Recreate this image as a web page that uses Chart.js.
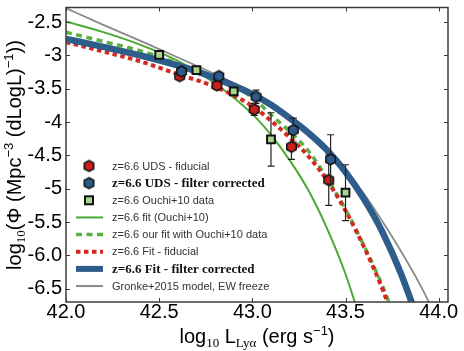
<!DOCTYPE html>
<html>
<head>
<meta charset="utf-8">
<script src="https://cdn.jsdelivr.net/npm/chart.js@4.4.1/dist/chart.umd.min.js"></script>
<style>
    html, body { margin: 0; padding: 0; background: #fff; }
    #wrap { width: 464px; height: 351px; }
</style>
</head>
<body>
<div id="wrap"><canvas id="lfChart" width="464" height="351"></canvas></div>
<script>
// ticks
const xTicks = [42.0, 42.5, 43.0, 43.5, 44.0];
const xTickLabels = ['42.0', '42.5', '43.0', '43.5', '44.0'];
const yTicks = [-2.5, -3, -3.5, -4, -4.5, -5, -5.5, -6, -6.5];
const yTickLabels = ['-2.5', '-3', '-3.5', '-4', '-4.5', '-5', '-5.5', '-6.0', '-6.5'];

// data points (log L, log phi, error)
const udsFidL = [42.61, 42.81, 43.01, 43.21, 43.41];
const udsFidPhi = [-3.31, -3.45, -3.81, -4.37, -4.87];
const udsFidErr = [0.03, 0.03, 0.09, 0.19, 0.38];

const udsCorL = [42.62, 42.82, 43.02, 43.22, 43.42];
const udsCorPhi = [-3.24, -3.31, -3.62, -4.12, -4.56];
const udsCorErr = [0.03, 0.03, 0.10, 0.18, 0.37];

const ouchiL = [42.50, 42.70, 42.90, 43.10, 43.50];
const ouchiPhi = [-2.99, -3.22, -3.54, -4.26, -5.06];
const ouchiErr = [0.03, 0.03, 0.03, 0.40, 0.42];

// curves, read at these luminosities
const curveL = [42.0, 42.2, 42.4, 42.6, 42.8, 43.0, 43.1, 43.2, 43.3, 43.4, 43.5, 43.6, 43.7, 43.8, 43.9, 44.0];
const ouchiFit = [-2.49, -2.65, -2.84, -3.08, -3.42, -3.88, -4.19, -4.57, -5.02, -5.59, -6.28, -7.15];
const ourOuchiFit = [-2.65, -2.79, -2.93, -3.12, -3.33, -3.63, -3.89, -4.14, -4.43, -4.84, -5.31, -5.86, -6.47, -7.2];
const fidFit = [-2.80, -2.94, -3.09, -3.28, -3.47, -3.76, -3.98, -4.23, -4.51, -4.87, -5.33, -5.88, -6.52, -7.3];
const corFit = [-2.75, -2.87, -3.00, -3.15, -3.34, -3.58, -3.74, -3.94, -4.16, -4.42, -4.75, -5.16, -5.66, -6.29, -7.06];
const gronke = [-2.29, -2.54, -2.78, -3.03, -3.28, -3.56, -3.72, -3.91, -4.12, -4.38, -4.72, -5.08, -5.5, -5.95, -6.44, -7.0];

const legendLabels = [
    'z=6.6 UDS - fiducial',
    'z=6.6 UDS - filter corrected',
    'z=6.6 Ouchi+10 data',
    'z=6.6 fit (Ouchi+10)',
    'z=6.6 our fit with Ouchi+10 data',
    'z=6.6 Fit - fiducial',
    'z=6.6 Fit - filter corrected',
    'Gronke+2015 model, EW freeze',
];

const SANS = '"Liberation Sans", Arial, sans-serif';
const SERIF = '"Liberation Serif", "DejaVu Serif", serif';

const colRed = '#d22a22';
const colBlue = '#2e5c8b';
const colGreen = '#4ba933';
const colGreenDash = '#58b140';
const colGrey = '#8a8a8a';

function hexMarker(fill, r) {
    const c = document.createElement('canvas');
    const s = Math.ceil(2 * r + 4);
    c.width = s;
    c.height = s;
    const g = c.getContext('2d');
    g.beginPath();
    for (let i = 0; i < 6; i++) {
        const a = Math.PI / 3 * i - Math.PI / 2;
        const px = s / 2 + r * Math.cos(a);
        const py = s / 2 + r * Math.sin(a);
        if (i === 0) g.moveTo(px, py); else g.lineTo(px, py);
    }
    g.closePath();
    g.fillStyle = fill;
    g.fill();
    g.lineWidth = 1.5;
    g.strokeStyle = '#111';
    g.stroke();
    return c;
}

const redHex = hexMarker('#c9201c', 5.5);
const blueHex = hexMarker('#2d5b8c', 5.5);

function pts(xs, ys) {
    return ys.map((v, i) => ({ x: xs[i], y: v }));
}

function curve(label, ys, color, width, dash, order) {
    return {
        type: 'line',
        label: label,
        data: pts(curveL, ys),
        borderColor: color,
        borderWidth: width,
        borderDash: dash,
        borderCapStyle: 'butt',
        pointRadius: 0,
        fill: false,
        cubicInterpolationMode: 'monotone',
        clip: 0,
        order: order,
    };
}

const errorBars = {
    id: 'errorBars',
    beforeDatasetDraw(chart, args) {
        const ds = chart.data.datasets[args.index];
        if (!ds.errors) return;
        const xs = chart.scales.x;
        const ys = chart.scales.y;
        const ctx = chart.ctx;
        ctx.save();
        ctx.strokeStyle = '#222';
        ctx.lineWidth = 1.2;
        ds.data.forEach((p, i) => {
            const px = xs.getPixelForValue(p.x);
            const top = ys.getPixelForValue(p.y + ds.errors[i]);
            const bot = ys.getPixelForValue(p.y - ds.errors[i]);
            ctx.beginPath();
            ctx.moveTo(px, top); ctx.lineTo(px, bot);
            ctx.moveTo(px - 3.5, top); ctx.lineTo(px + 3.5, top);
            ctx.moveTo(px - 3.5, bot); ctx.lineTo(px + 3.5, bot);
            ctx.stroke();
        });
        ctx.restore();
    },
};

const frameTicks = {
    id: 'frameTicks',
    afterDatasetsDraw(chart) {
        const { ctx, chartArea: a } = chart;
        const xs = chart.scales.x;
        const ys = chart.scales.y;
        ctx.save();
        ctx.strokeStyle = '#3a3a3a';
        ctx.lineWidth = 1.5;
        ctx.strokeRect(a.left, a.top, a.right - a.left, a.bottom - a.top);
        ctx.lineWidth = 1;
        ctx.beginPath();
        xTicks.forEach((v) => {
            const px = Math.round(xs.getPixelForValue(v)) + 0.5;
            ctx.moveTo(px, a.bottom); ctx.lineTo(px, a.bottom - 4);
            ctx.moveTo(px, a.top); ctx.lineTo(px, a.top + 4);
        });
        yTicks.forEach((v) => {
            const py = Math.round(ys.getPixelForValue(v)) + 0.5;
            ctx.moveTo(a.left, py); ctx.lineTo(a.left + 4, py);
            ctx.moveTo(a.right, py); ctx.lineTo(a.right - 4, py);
        });
        ctx.stroke();
        ctx.restore();
    },
};

function drawRich(ctx, parts, cx, cy, rotate) {
    ctx.save();
    ctx.translate(cx, cy);
    if (rotate) ctx.rotate(-Math.PI / 2);
    let total = 0;
    parts.forEach((p) => {
        ctx.font = p.font;
        p.w = ctx.measureText(p.text).width;
        total += p.w;
    });
    let x = -total / 2;
    ctx.textBaseline = 'alphabetic';
    ctx.textAlign = 'left';
    ctx.fillStyle = '#000';
    parts.forEach((p) => {
        ctx.font = p.font;
        ctx.fillText(p.text, x, p.dy || 0);
        x += p.w;
    });
    ctx.restore();
}

const axisTitles = {
    id: 'axisTitles',
    afterDraw(chart) {
        const ctx = chart.ctx;
        const big = '20px ' + SANS;
        const small = '13px ' + SERIF;
        const sup = '13px ' + SANS;
        drawRich(ctx, [
            { text: 'log', font: big },
            { text: '10', font: small, dy: 4 },
            { text: ' L', font: big },
            { text: 'Lyα', font: small, dy: 4 },
            { text: ' (erg s', font: big },
            { text: '−1', font: sup, dy: -8 },
            { text: ')', font: big },
        ], 257, 343, false);
        drawRich(ctx, [
            { text: 'log', font: big },
            { text: '10', font: small, dy: 4 },
            { text: '(Φ (Mpc', font: big },
            { text: '−3', font: sup, dy: -8 },
            { text: ' (dLogL)', font: big },
            { text: '−1', font: sup, dy: -8 },
            { text: '))', font: big },
        ], 21, 155, true);
    },
};

const legendBox = {
    id: 'legendBox',
    afterDraw(chart) {
        const ctx = chart.ctx;
        const rows = [
            { kind: 'img', img: redHex },
            { kind: 'img', img: blueHex, bold: true },
            { kind: 'square' },
            { kind: 'line', color: colGreen, width: 2, dash: [] },
            { kind: 'line', color: colGreenDash, width: 3.5, dash: [6, 4.5] },
            { kind: 'line', color: colRed, width: 4, dash: [4.5, 3.5] },
            { kind: 'line', color: colBlue, width: 6, dash: [], bold: true },
            { kind: 'line', color: colGrey, width: 2, dash: [] },
        ];
        ctx.save();
        rows.forEach((r, i) => {
            const y = 166 + i * 17.15;
            if (r.kind === 'img') {
                ctx.drawImage(r.img, 89 - r.img.width / 2, y - r.img.height / 2);
            } else if (r.kind === 'square') {
                ctx.fillStyle = '#a6d78c';
                ctx.strokeStyle = '#111';
                ctx.lineWidth = 2;
                ctx.fillRect(85, y - 4, 8, 8);
                ctx.strokeRect(85, y - 4, 8, 8);
            } else {
                ctx.beginPath();
                ctx.setLineDash(r.dash);
                ctx.strokeStyle = r.color;
                ctx.lineWidth = r.width;
                ctx.lineCap = 'butt';
                ctx.moveTo(76, y);
                ctx.lineTo(103, y);
                ctx.stroke();
                ctx.setLineDash([]);
            }
            ctx.font = r.bold ? 'bold 13px ' + SERIF : '11px ' + SANS;
            ctx.fillStyle = r.bold ? '#111' : '#333';
            ctx.textBaseline = 'middle';
            ctx.textAlign = 'left';
            ctx.fillText(legendLabels[i], 112, y + 0.5);
        });
        ctx.restore();
    },
};

document.addEventListener('DOMContentLoaded', () => {
    const canvas = document.getElementById('lfChart');

    new Chart(canvas, {
        type: 'line',
        data: {
            datasets: [
                curve(legendLabels[7], gronke, colGrey, 1.8, [], 10),
                curve(legendLabels[3], ouchiFit, colGreen, 2, [], 9),
                curve(legendLabels[4], ourOuchiFit, colGreenDash, 3.5, [6, 4.5], 8),
                curve(legendLabels[5], fidFit, colRed, 4, [4.5, 3.5], 7),
                curve(legendLabels[6], corFit, colBlue, 6.5, [], 6),
                {
                    type: 'scatter',
                    label: legendLabels[2],
                    data: pts(ouchiL, ouchiPhi),
                    errors: ouchiErr,
                    pointStyle: 'rect',
                    pointRadius: 5.5,
                    backgroundColor: '#a6d78c',
                    borderColor: '#111',
                    borderWidth: 2,
                    order: 3,
                },
                {
                    type: 'scatter',
                    label: legendLabels[0],
                    data: pts(udsFidL, udsFidPhi),
                    errors: udsFidErr,
                    pointStyle: redHex,
                    order: 2,
                },
                {
                    type: 'scatter',
                    label: legendLabels[1],
                    data: pts(udsCorL, udsCorPhi),
                    errors: udsCorErr,
                    pointStyle: blueHex,
                    order: 1,
                },
            ],
        },
        options: {
            responsive: false,
            animation: false,
            layout: { padding: { top: 6, right: 16, left: 0, bottom: 0 } },
            plugins: {
                legend: { display: false },
                tooltip: { enabled: false },
            },
            scales: {
                x: {
                    type: 'linear',
                    min: 42.0,
                    max: 44.05,
                    afterBuildTicks: (scale) => { scale.ticks = xTicks.map((v) => ({ value: v })); },
                    afterFit: (scale) => { scale.height = 49; scale.paddingLeft = 0; scale.paddingRight = 0; },
                    grid: { display: false, drawTicks: false },
                    border: { display: false },
                    ticks: {
                        color: '#000',
                        padding: -2,
                        maxRotation: 0,
                        autoSkip: false,
                        font: { family: SANS, size: 20 },
                        callback: (v) => { const i = xTicks.indexOf(v); return i >= 0 ? xTickLabels[i] : ''; },
                    },
                },
                y: {
                    type: 'linear',
                    min: -6.7,
                    max: -2.28,
                    afterBuildTicks: (scale) => { scale.ticks = yTicks.map((v) => ({ value: v })); },
                    afterFit: (scale) => { scale.width = 66; scale.paddingTop = 0; scale.paddingBottom = 0; },
                    grid: { display: false, drawTicks: false },
                    border: { display: false },
                    ticks: {
                        color: '#000',
                        padding: 4,
                        autoSkip: false,
                        font: { family: SANS, size: 20 },
                        callback: (v) => { const i = yTicks.indexOf(v); return i >= 0 ? yTickLabels[i] : ''; },
                    },
                },
            },
        },
        plugins: [errorBars, frameTicks, legendBox, axisTitles],
    });
});
</script>
</body>
</html>
